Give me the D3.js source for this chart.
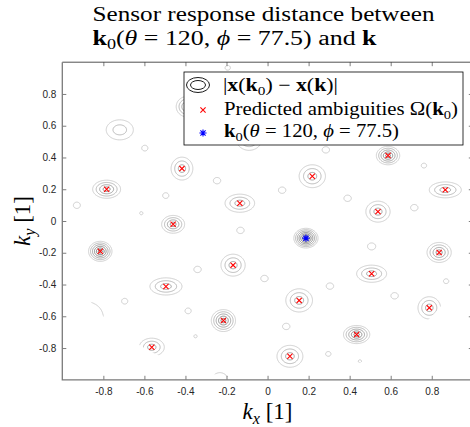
<!DOCTYPE html>
<html>
<head>
<meta charset="utf-8">
<script src="https://cdn.jsdelivr.net/npm/d3@7"></script>
<style>
  body { margin: 0; background: #fff; }
  svg text { font-family: 'Liberation Serif', 'Times New Roman', serif; fill: #000; }
  .tick text { font-family: 'Liberation Sans', Arial, sans-serif; font-size: 10px; fill: #262626; }
</style>
</head>
<body>
<div id="chart"></div>
<script>
let width = 470,
  height = 427

// steering vector k0 (blue star) and the predicted ambiguities (red crosses)
// the last four crosses sit under the legend
let k0 = [0.187, -0.108]
let ambKx = [-0.784, -0.815, -0.417, -0.46, -0.495, -0.135, -0.168, -0.215, -0.564,
  0.587, 0.218, 0.866, 0.538, 0.836, 0.507, 0.154, 0.788, 0.434, 0.109,
  -0.39, -0.09, 0.25, 0.6]
let ambKy = [0.2, -0.191, 0.33, -0.021, -0.412, 0.112, -0.278, -0.627, -0.795,
  0.412, 0.282, 0.196, 0.059, -0.198, -0.332, -0.5, -0.547, -0.715, -0.852,
  0.72, 0.515, 0.67, 0.82]

// local minima of |x(k0) - x(k)|: centre, number of contour rings, half widths of the outer ring
let minKx = [0.187, -0.815, -0.784, -0.417, -0.46, -0.495, -0.135, -0.168, -0.215, -0.564,
  0.587, 0.218, 0.866, 0.538, 0.836, 0.507, 0.154, 0.788, 0.434, 0.109,
  -0.39, -0.09, 0.25, 0.6, -0.72, -0.88, -0.232,
  -0.929, -0.598, -0.246, -0.496, -0.615, -0.132, -0.194, -0.341, -0.015, -0.696, -0.387, -0.351,
  0.284, 0.071, 0.39, 0.762, 0.715, 0.507, 0.304, 0.619, 0.87, 0.091, 0.296, 0.45]
let minKy = [-0.108, -0.191, 0.2, 0.33, -0.021, -0.412, 0.112, -0.278, -0.627, -0.795,
  0.412, 0.282, 0.196, 0.059, -0.198, -0.332, -0.5, -0.547, -0.715, -0.852,
  0.72, 0.515, 0.67, 0.82, 0.574, -0.61, -1.02,
  0.099, 0.459, 0.254, 0.16, 0.049, -0.059, 0.965, -0.305, -0.362, -0.505, -0.566, -0.726,
  0.448, 0.194, 0.143, 0.349, 0.084, -0.16, -0.41, -0.471, -0.379, -0.664, -0.837, -0.883]
let minRings = [7, 6, 4, 3, 4, 3, 3, 3, 5, 3,
  5, 3, 3, 3, 4, 3, 3, 3, 5, 3,
  4, 3, 3, 3, 2, 2, 1,
  1, 1, 1, 1, 1, 1, 1, 1, 1, 1, 1, 1,
  1, 1, 1, 1, 1, 1, 1, 1, 1, 1, 1, 1]
let minRx = [0.059, 0.057, 0.068, 0.053, 0.056, 0.078, 0.072, 0.059, 0.059, 0.061,
  0.057, 0.064, 0.078, 0.059, 0.059, 0.073, 0.065, 0.055, 0.064, 0.063,
  0.055, 0.062, 0.062, 0.06, 0.066, 0.08, 0.045,
  0.017, 0.015, 0.018, 0.015, 0.008, 0.018, 0.013, 0.018, 0.018, 0.015, 0.015, 0.008,
  0.018, 0.018, 0.018, 0.013, 0.018, 0.02, 0.018, 0.018, 0.013, 0.018, 0.013, 0.008]
let minRy = [0.062, 0.063, 0.057, 0.072, 0.056, 0.054, 0.057, 0.069, 0.069, 0.057,
  0.058, 0.072, 0.05, 0.066, 0.063, 0.054, 0.073, 0.07, 0.057, 0.069,
  0.065, 0.07, 0.07, 0.065, 0.063, 0.1, 0.065,
  0.02, 0.018, 0.02, 0.018, 0.01, 0.02, 0.015, 0.02, 0.02, 0.018, 0.018, 0.01,
  0.02, 0.02, 0.02, 0.015, 0.02, 0.022, 0.02, 0.02, 0.015, 0.02, 0.015, 0.009]

let levels = [1, 2, 3, 4, 5, 6, 7]
let xTicks = [-0.8, -0.6, -0.4, -0.2, 0, 0.2, 0.4, 0.6, 0.8]
let yTicks = [-0.8, -0.6, -0.4, -0.2, 0, 0.2, 0.4, 0.6, 0.8]

let svg = d3.select('#chart')
  .append('svg')
  .attr('width', width)
  .attr('height', height)

let x = d3.scaleLinear().domain([-1, 1]).range([62.3, 472.8])
let y = d3.scaleLinear().domain([-1, 1]).range([379.8, 62.2])

let defs = svg.append('defs')
defs.append('clipPath').attr('id', 'box')
  .append('rect')
  .attr('x', x(-1)).attr('y', y(1))
  .attr('width', x(1) - x(-1)).attr('height', y(-1) - y(1))
// the field only exists for |k| <= 1
defs.append('clipPath').attr('id', 'disc')
  .append('ellipse')
  .attr('cx', x(0)).attr('cy', y(0))
  .attr('rx', x(1) - x(0)).attr('ry', y(-1) - y(0))

// distance field on a grid, negated so each contour is the inside of a minimum
let N = 600, step = 2 / N, cap = 7.5
let field = new Float64Array(N * N).fill(-cap)
minKx.forEach((cx, m) => {
  let cy = minKy[m], n = minRings[m], rx = minRx[m], ry = minRy[m]
  let reach = (cap - 7 + n) / n
  let i0 = Math.max(0, Math.floor((cx - rx * reach + 1) / step)),
    i1 = Math.min(N - 1, Math.ceil((cx + rx * reach + 1) / step)),
    j0 = Math.max(0, Math.floor((cy - ry * reach + 1) / step)),
    j1 = Math.min(N - 1, Math.ceil((cy + ry * reach + 1) / step))
  for (let j = j0; j <= j1; j++) {
    let ky = -1 + (j + 0.5) * step
    for (let i = i0; i <= i1; i++) {
      let kx = -1 + (i + 0.5) * step
      let v = 7 - n + n * Math.hypot((kx - cx) / rx, (ky - cy) / ry)
      if (-v > field[j * N + i]) field[j * N + i] = -v
    }
  }
})

let contours = d3.contours()
  .size([N, N])
  .thresholds(levels.map(t => -t))(field)

let gridPath = d3.geoPath(d3.geoTransform({
  point: function(px, py) { this.stream.point(x(-1 + px * step), y(-1 + py * step)) }
}))

let shade = d3.scaleLinear().domain([1, 7]).range(['#262626', '#c4c4c4'])

svg.append('g')
  .attr('clip-path', 'url(#box)')
  .append('g')
  .attr('clip-path', 'url(#disc)')
  .selectAll('path')
  .data(contours.slice().reverse())
  .enter().append('path')
  .attr('d', gridPath)
  .attr('fill', 'none')
  .attr('stroke', d => shade(-d.value))
  .attr('stroke-width', 0.8)

// markers
let cross = (cx, cy, s) => `M${cx - s},${cy - s}L${cx + s},${cy + s}M${cx - s},${cy + s}L${cx + s},${cy - s}`
let star = (cx, cy, s) => cross(cx, cy, s * 0.72) + `M${cx - s},${cy}L${cx + s},${cy}M${cx},${cy - s}L${cx},${cy + s}`

svg.append('g')
  .selectAll('path')
  .data(ambKx.map((d, i) => [d, ambKy[i]]))
  .enter().append('path')
  .attr('d', d => cross(x(d[0]), y(d[1]), 2.6))
  .attr('stroke', '#ff0000')
  .attr('stroke-width', 1.1)

svg.append('path')
  .attr('d', star(x(k0[0]), y(k0[1]), 3.6))
  .attr('stroke', '#0000ff')
  .attr('stroke-width', 1.1)

// axes, ticks inward on all four sides
svg.append('g')
  .attr('transform', `translate(0,${y(-1)})`)
  .call(d3.axisBottom(x).tickValues(xTicks).tickFormat(d => String(d)).tickSizeInner(-4).tickSizeOuter(0).tickPadding(8))
svg.append('g')
  .attr('transform', `translate(${x(-1)},0)`)
  .call(d3.axisLeft(y).tickValues(yTicks).tickFormat(d => String(d)).tickSizeInner(-4).tickSizeOuter(0).tickPadding(6))
svg.append('g')
  .attr('transform', `translate(0,${y(1)})`)
  .call(d3.axisTop(x).tickValues(xTicks).tickFormat('').tickSizeInner(-4).tickSizeOuter(0))
svg.append('g')
  .attr('transform', `translate(${x(1)},0)`)
  .call(d3.axisRight(y).tickValues(yTicks).tickFormat('').tickSizeInner(-4).tickSizeOuter(0))

svg.selectAll('.domain').remove()
svg.selectAll('.tick line').attr('stroke', '#262626').attr('stroke-width', 0.6)

svg.append('path')
  .attr('d', `M${x(-1)},${y(1)}L${x(1)},${y(1)}L${x(1)},${y(-1)}`)
  .attr('fill', 'none')
  .attr('stroke', '#262626')
  .attr('stroke-width', 0.8)
svg.append('path')
  .attr('d', `M${x(-1)},${y(1)}L${x(-1)},${y(-1)}L${x(1)},${y(-1)}`)
  .attr('fill', 'none')
  .attr('stroke', '#7a7a7a')
  .attr('stroke-width', 1.3)

// latex-like text out of tspans: b bold, i italic, s subscript
function mathText(sel, parts) {
  let shift = 0
  parts.forEach(p => {
    let ts = sel.append('tspan').text(p.t)
    if (p.b) ts.attr('font-weight', 'bold')
    if (p.i) ts.attr('font-style', 'italic')
    let want = p.s ? p.s : 0
    if (p.s) ts.attr('font-size', '0.7em')
    if (want != shift) { ts.attr('dy', want - shift); shift = want }
  })
  return sel
}

let k0Parts = [{t: 'k', b: 1}, {t: '0', s: 4}, {t: '('}, {t: 'θ', i: 1}, {t: ' = 120, '},
  {t: 'ϕ', i: 1}, {t: ' = 77.5)'}]

// title
svg.append('text')
  .attr('x', 92.5).attr('y', 21)
  .attr('font-size', 20)
  .attr('textLength', 342).attr('lengthAdjust', 'spacingAndGlyphs')
  .text('Sensor response distance between')
mathText(svg.append('text')
  .attr('x', 92.5).attr('y', 45)
  .attr('font-size', 20)
  .attr('textLength', 284).attr('lengthAdjust', 'spacingAndGlyphs'),
  k0Parts.concat([{t: ' and '}, {t: 'k', b: 1}]))

// axis labels
mathText(svg.append('text')
  .attr('x', x(0)).attr('y', 419)
  .attr('text-anchor', 'middle')
  .attr('font-size', 23),
  [{t: 'k', i: 1}, {t: 'x', i: 1, s: 5}, {t: ' [1]'}])
mathText(svg.append('text')
  .attr('transform', `translate(30,${y(0)}) rotate(-90)`)
  .attr('text-anchor', 'middle')
  .attr('font-size', 23),
  [{t: 'k', i: 1}, {t: 'y', i: 1, s: 5}, {t: ' [1]'}])

// legend
let legend = svg.append('g')
legend.append('rect')
  .attr('x', 184).attr('y', 72)
  .attr('width', 279).attr('height', 73)
  .attr('fill', '#fff')
  .attr('stroke', '#000')
  .attr('stroke-width', 0.8)
legend.selectAll('ellipse')
  .data([[11.5, 7.5], [7.5, 4.5]])
  .enter().append('ellipse')
  .attr('cx', 198).attr('cy', 85)
  .attr('rx', d => d[0]).attr('ry', d => d[1])
  .attr('fill', 'none')
  .attr('stroke', '#000')
  .attr('stroke-width', 0.9)
legend.append('path')
  .attr('d', cross(203, 110, 2.6))
  .attr('stroke', '#ff0000')
  .attr('stroke-width', 1.1)
legend.append('path')
  .attr('d', star(203, 133, 3.6))
  .attr('stroke', '#0000ff')
  .attr('stroke-width', 1.1)

mathText(legend.append('text')
  .attr('x', 223).attr('y', 91)
  .attr('font-size', 18)
  .attr('textLength', 115).attr('lengthAdjust', 'spacingAndGlyphs'),
  [{t: '|'}, {t: 'x', b: 1}, {t: '('}, {t: 'k', b: 1}, {t: '0', s: 4}, {t: ') − '},
    {t: 'x', b: 1}, {t: '('}, {t: 'k', b: 1}, {t: ')|'}])
mathText(legend.append('text')
  .attr('x', 224).attr('y', 115)
  .attr('font-size', 18)
  .attr('textLength', 234).attr('lengthAdjust', 'spacingAndGlyphs'),
  [{t: 'Predicted ambiguities Ω('}, {t: 'k', b: 1}, {t: '0', s: 4}, {t: ')'}])
mathText(legend.append('text')
  .attr('x', 224).attr('y', 137)
  .attr('font-size', 18)
  .attr('textLength', 175).attr('lengthAdjust', 'spacingAndGlyphs'),
  k0Parts)
</script>
</body>
</html>
